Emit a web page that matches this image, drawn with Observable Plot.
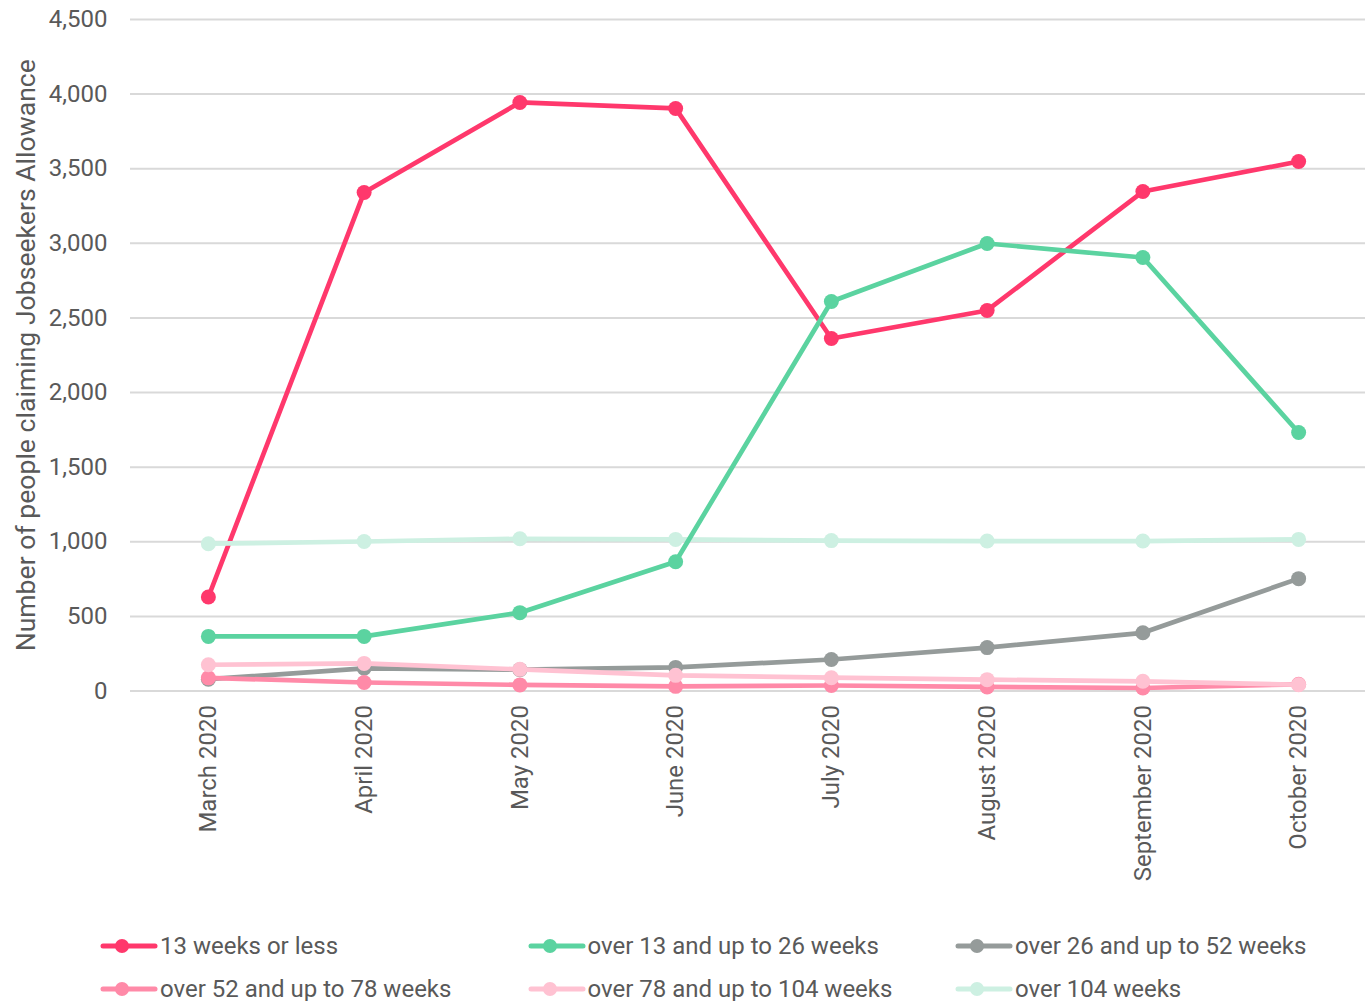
<!DOCTYPE html>
<html>
<head>
<meta charset="utf-8">
<script src="https://cdn.jsdelivr.net/npm/d3@7"></script>
<script src="https://cdn.jsdelivr.net/npm/@observablehq/plot@0.6"></script>
<style>
  html, body { margin: 0; padding: 0; background: #fff; }
  body { width: 1365px; overflow: hidden; font-family: Roboto, "Noto Sans", sans-serif; }
  #chart svg { display: block; }
  #chart g[aria-label="y-axis label"] { font-size: 26.6px; }
  .legend {
    display: grid;
    grid-template-columns: repeat(3, 427.5px);
    margin: 9px 0 0 100px;
    color: #595959;
    font-size: 24px;
  }
  .legend .item { display: flex; align-items: center; height: 43px; white-space: nowrap; }
  .legend svg { flex: none; margin-right: 2px; }
</style>
</head>
<body>
<div id="chart"></div>
<div class="legend" id="legend"></div>
<script>
// Monthly Jobseekers Allowance claimants by claim duration, 2020
const months = ["March 2020", "April 2020", "May 2020", "June 2020",
                "July 2020", "August 2020", "September 2020", "October 2020"];

const weeks13OrLess   = [630, 3341, 3944, 3904, 2362, 2550, 3347, 3548];
const weeks13To26     = [366, 366, 525, 866, 2610, 2999, 2905, 1732];
const weeks26To52     = [79, 152, 143, 158, 211, 291, 390, 753];
const weeks52To78     = [88, 57, 41, 31, 37, 27, 20, 45];
const weeks78To104    = [176, 185, 145, 105, 89, 76, 65, 42];
const weeksOver104    = [987, 1002, 1020, 1016, 1008, 1005, 1005, 1016];

const yTicks = [0, 500, 1000, 1500, 2000, 2500, 3000, 3500, 4000, 4500];

const series = [
  {name: "13 weeks or less",            values: weeks13OrLess, color: "#ff386c"},
  {name: "over 13 and up to 26 weeks",  values: weeks13To26,   color: "#5bd3a0"},
  {name: "over 26 and up to 52 weeks",  values: weeks26To52,   color: "#959b9a"},
  {name: "over 52 and up to 78 weeks",  values: weeks52To78,   color: "#ff8aa8"},
  {name: "over 78 and up to 104 weeks", values: weeks78To104,  color: "#ffc2d2"},
  {name: "over 104 weeks",              values: weeksOver104,  color: "#cdf0e2"}
];

// stacking order of the lines (later ones are drawn on top)
const drawOrder = [0, 5, 1, 2, 3, 4];

const seriesMarks = drawOrder.flatMap(k => {
  const s = series[k];
  const rows = s.values.map((v, i) => ({month: months[i], value: v}));
  return [
    Plot.line(rows, {x: "month", y: "value", stroke: s.color, strokeWidth: 4.7,
                     strokeLinejoin: "round", strokeLinecap: "round"}),
    Plot.dot(rows, {x: "month", y: "value", fill: s.color, r: 7.5})
  ];
});

const chart = Plot.plot({
  width: 1365,
  height: 915,
  marginLeft: 130,
  marginRight: -11,
  marginTop: 19,
  marginBottom: 224.5,
  style: {fontFamily: "Roboto, 'Noto Sans', sans-serif", fontSize: "24px", color: "#595959", background: "#fff"},
  x: {type: "point", domain: months, padding: 0.5, round: false},
  y: {domain: [0, 4500]},
  marks: [
    Plot.gridY(yTicks, {stroke: "#d9d9d9", strokeOpacity: 1, strokeWidth: 2}),
    Plot.axisY(yTicks, {tickSize: 0, tickPadding: 23, tickFormat: d3.format(","),
                        label: "Number of people claiming Jobseekers Allowance",
                        labelAnchor: "center", labelArrow: "none", labelOffset: 114}),
    Plot.axisX({tickSize: 0, tickPadding: 14, tickRotate: -90, label: null}),
    ...seriesMarks
  ]
});
document.getElementById("chart").appendChild(chart);

// legend: line-and-dot swatch for each series
const legend = d3.select("#legend");
series.forEach(s => {
  const item = legend.append("div").attr("class", "item");
  const sw = item.append("svg").attr("width", 58).attr("height", 16);
  sw.append("line").attr("x1", 3).attr("x2", 55).attr("y1", 8).attr("y2", 8)
    .attr("stroke", s.color).attr("stroke-width", 5).attr("stroke-linecap", "round");
  sw.append("circle").attr("cx", 22).attr("cy", 8).attr("r", 7).attr("fill", s.color);
  item.append("span").text(s.name);
});
</script>
</body>
</html>
